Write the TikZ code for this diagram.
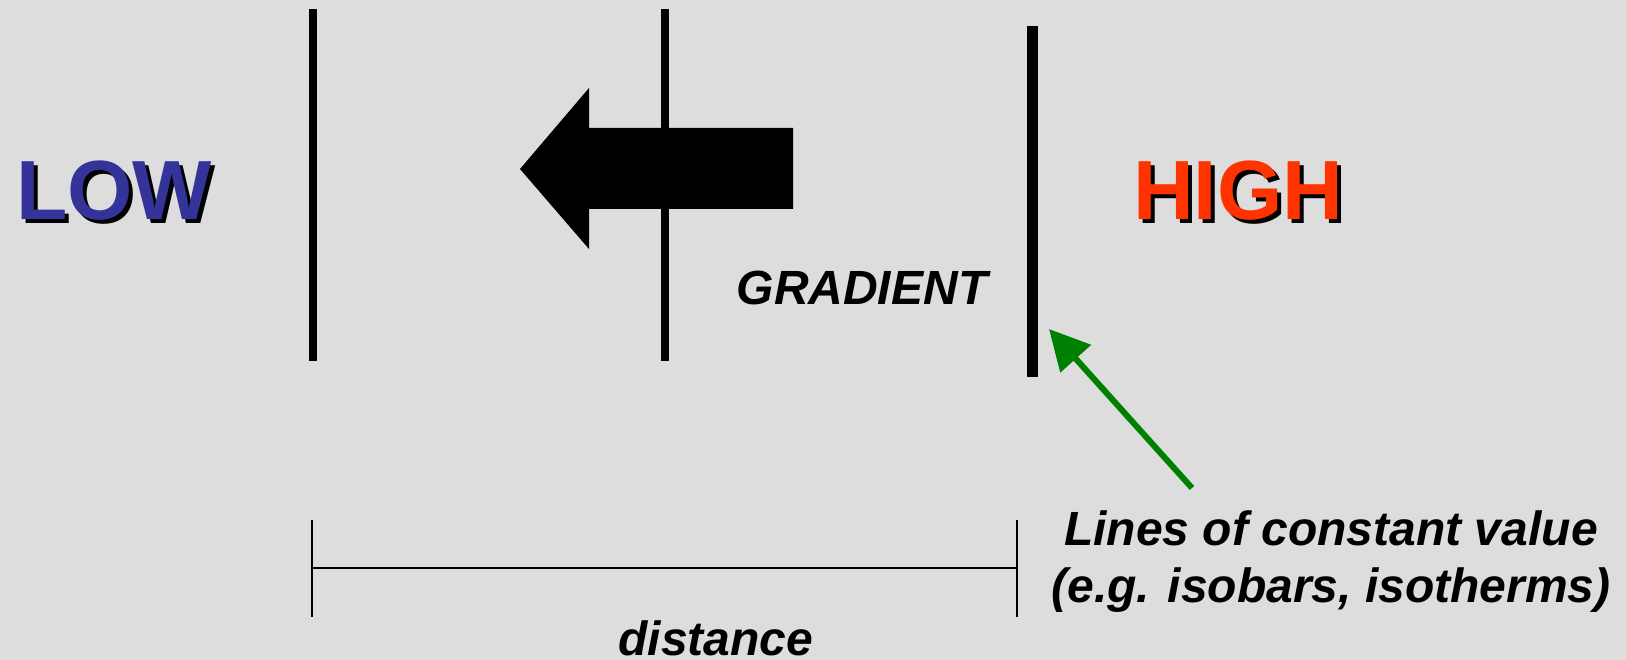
\documentclass[tikz,border=0pt]{standalone}
\usepackage{fontspec}
\setmainfont{Liberation Sans}
\usetikzlibrary{arrows.meta}
\definecolor{bg}{RGB}{221,221,221}
\definecolor{lowblue}{RGB}{51,51,153}
\definecolor{highred}{RGB}{255,51,0}
\definecolor{pgreen}{RGB}{0,128,0}
\tikzset{
  bigword/.style={inner sep=0pt, anchor=base, font=\fontsize{84}{90}\selectfont\bfseries},
  itword/.style={inner sep=0pt, anchor=base, font=\fontsize{48}{57}\selectfont\bfseries\itshape},
  isoline/.style={line width=8pt},
  dimline/.style={line width=2pt},
  pointer/.style={draw=pgreen, line width=6pt, -{Triangle[length=40pt,width=40pt]}}
}
\begin{document}
\begin{tikzpicture}[x=1pt,y=-1pt]
\fill[bg] (0,0) rectangle (1626,660);
\useasboundingbox (0,0) rectangle (1626,660);

% isolines
\draw[isoline] (313,9) -- (313,361);
\draw[isoline] (665,9) -- (665,361);
\draw[isoline, line width=11pt] (1032,26) -- (1032,377);

% big gradient arrow
\fill[black] (520,169) -- (589,88) -- (589,128) -- (793,128) -- (793,209) -- (589,209) -- (589,249) -- cycle;

% LOW / HIGH with shadows
\node[bigword, text=black] (lowsh) at (118,224) {LOW};
\node[bigword, text=lowblue] (low) at (114,220) {LOW};
\node[bigword, text=black] (highsh) at (1242,224) {HIGH};
\node[bigword, text=highred] (high) at (1238,220) {HIGH};

% gradient label
\node[itword] (grad) at (862,305) {GRADIENT};

% distance
\coordinate (dl) at (312,568);
\coordinate (dr) at (1017,568);
\draw[dimline] (312,520) -- (312,617);
\draw[dimline] (1017,520) -- (1017,617);
\draw[dimline] (dl) -- (dr);
\node[itword] (dist) at (716,655) {distance};

% lines of constant value
\node[itword] (lcv1) at (1331,545) {Lines of constant value};
\node[itword] (lcv2) at (1331,602) {(e.g. isobars, isotherms)};
\coordinate (ptail) at (1192,488);
\coordinate (phead) at (1049,329);
\draw[pointer] (ptail) -- (phead);
\end{tikzpicture}
\end{document}
